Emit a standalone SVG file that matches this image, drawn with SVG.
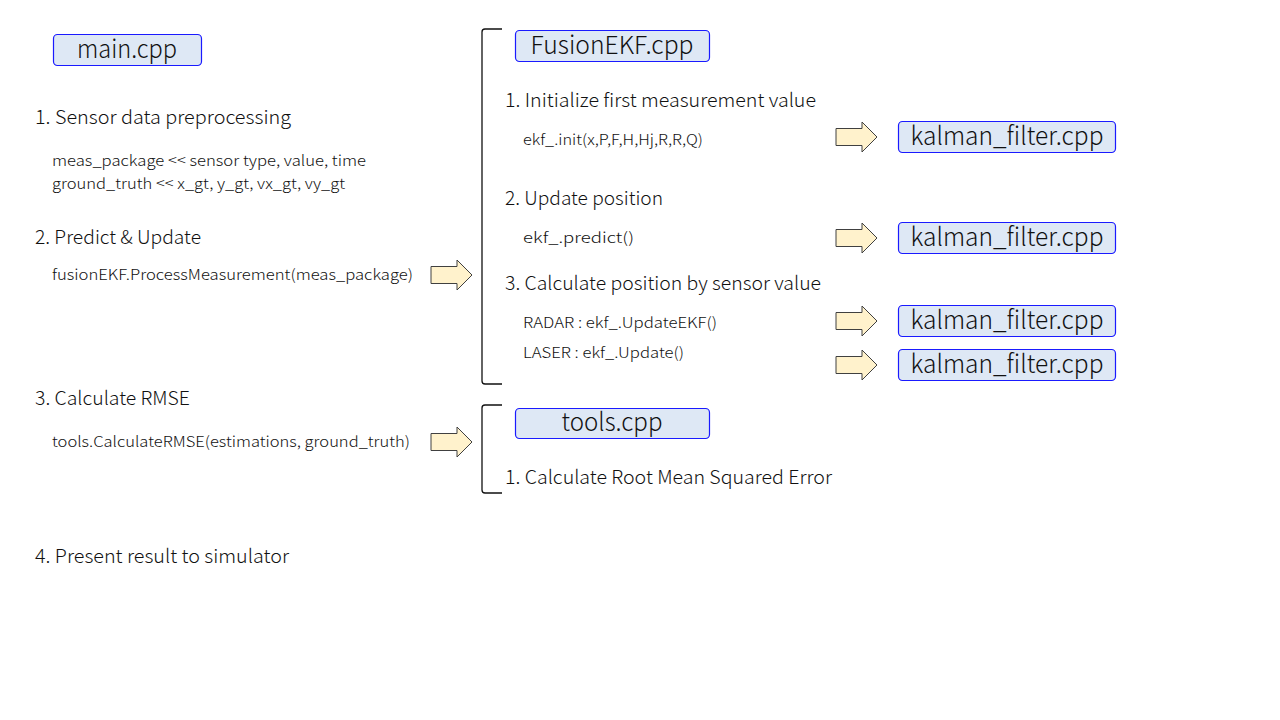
<svg xmlns="http://www.w3.org/2000/svg" width="1280" height="720" viewBox="0 0 1280 720">
<style>
.box{fill:#dee8f5;stroke:#1a1aff;stroke-width:1.2}
.lbl{font-family:"Noto Sans CJK KR","Noto Sans",sans-serif;font-size:25px;font-weight:300;fill:#111;text-anchor:middle}
.h{font-family:"Noto Sans CJK KR","Noto Sans",sans-serif;font-size:19px;font-weight:300;fill:#111}
.s{font-family:"Noto Sans CJK KR","Noto Sans",sans-serif;font-size:15px;font-weight:300;fill:#111}
.arr{fill:#fff2cc;stroke:#404040;stroke-width:1}
.br{fill:none;stroke:#111;stroke-width:1.3}
</style>
<defs>
<path id="arrow" d="M0,-8.5 H26 V-15 L41,0 L26,15 V8.5 H0 Z"/>
</defs>
<rect width="1280" height="720" fill="#fff"/>
<g id="connectors">
<use href="#arrow" class="arr" x="431" y="275"/>
<use href="#arrow" class="arr" x="431" y="442"/>
<use href="#arrow" class="arr" x="836" y="137"/>
<use href="#arrow" class="arr" x="836" y="238"/>
<use href="#arrow" class="arr" x="836" y="321"/>
<use href="#arrow" class="arr" x="836" y="365"/>
<path class="br" d="M502,29 H485 Q482,29 482,32 V381 Q482,384 485,384 H502"/>
<path class="br" d="M502,405 H485 Q482,405 482,408 V490 Q482,493 485,493 H502"/>
</g>
<g id="main">
<rect class="box" x="53.5" y="34.5" width="148" height="31" rx="4"/>
<text class="lbl" x="127" y="58" textLength="100" lengthAdjust="spacingAndGlyphs">main.cpp</text>
</g>
<g id="main-steps">
<text class="h" x="35" y="124" textLength="256" lengthAdjust="spacingAndGlyphs">1. Sensor data preprocessing</text>
<text class="s" x="52" y="166" textLength="314" lengthAdjust="spacingAndGlyphs">meas_package &lt;&lt; sensor type, value, time</text>
<text class="s" x="52" y="189" textLength="293" lengthAdjust="spacingAndGlyphs">ground_truth &lt;&lt; x_gt, y_gt, vx_gt, vy_gt</text>
<text class="h" x="35" y="244" textLength="166" lengthAdjust="spacingAndGlyphs">2. Predict &amp; Update</text>
<text class="s" x="52" y="280" textLength="361" lengthAdjust="spacingAndGlyphs">fusionEKF.ProcessMeasurement(meas_package)</text>
<text class="h" x="35" y="405" textLength="155" lengthAdjust="spacingAndGlyphs">3. Calculate RMSE</text>
<text class="s" x="52" y="447" textLength="358" lengthAdjust="spacingAndGlyphs">tools.CalculateRMSE(estimations, ground_truth)</text>
<text class="h" x="35" y="563" textLength="254" lengthAdjust="spacingAndGlyphs">4. Present result to simulator</text>
</g>
<g id="fusionekf">
<rect class="box" x="515.5" y="30.5" width="194" height="31" rx="4"/>
<text class="lbl" x="612" y="54" textLength="163" lengthAdjust="spacingAndGlyphs">FusionEKF.cpp</text>
</g>
<g id="fusion-steps">
<text class="h" x="505" y="107" textLength="311" lengthAdjust="spacingAndGlyphs">1. Initialize first measurement value</text>
<text class="s" x="523" y="145" textLength="180" lengthAdjust="spacingAndGlyphs">ekf_.init(x,P,F,H,Hj,R,R,Q)</text>
<text class="h" x="505" y="205" textLength="158" lengthAdjust="spacingAndGlyphs">2. Update position</text>
<text class="s" x="523" y="243" textLength="111" lengthAdjust="spacingAndGlyphs">ekf_.predict()</text>
<text class="h" x="505" y="290" textLength="316" lengthAdjust="spacingAndGlyphs">3. Calculate position by sensor value</text>
<text class="s" x="523" y="328" textLength="194" lengthAdjust="spacingAndGlyphs">RADAR : ekf_.UpdateEKF()</text>
<text class="s" x="523" y="358" textLength="161" lengthAdjust="spacingAndGlyphs">LASER : ekf_.Update()</text>
</g>
<g id="kalman1">
<rect class="box" x="898.5" y="121.5" width="217" height="31" rx="4"/>
<text class="lbl" x="1007" y="145" textLength="193" lengthAdjust="spacingAndGlyphs">kalman_filter.cpp</text>
</g>
<g id="kalman2">
<rect class="box" x="898.5" y="222.5" width="217" height="31" rx="4"/>
<text class="lbl" x="1007" y="246" textLength="193" lengthAdjust="spacingAndGlyphs">kalman_filter.cpp</text>
</g>
<g id="kalman3">
<rect class="box" x="898.5" y="305.5" width="217" height="31" rx="4"/>
<text class="lbl" x="1007" y="329" textLength="193" lengthAdjust="spacingAndGlyphs">kalman_filter.cpp</text>
</g>
<g id="kalman4">
<rect class="box" x="898.5" y="349.5" width="217" height="31" rx="4"/>
<text class="lbl" x="1007" y="373" textLength="193" lengthAdjust="spacingAndGlyphs">kalman_filter.cpp</text>
</g>
<g id="tools">
<rect class="box" x="515.5" y="408.5" width="194" height="30" rx="4"/>
<text class="lbl" x="612" y="431" textLength="101" lengthAdjust="spacingAndGlyphs">tools.cpp</text>
</g>
<g id="tools-steps">
<text class="h" x="505" y="484" textLength="327" lengthAdjust="spacingAndGlyphs">1. Calculate Root Mean Squared Error</text>
</g>
</svg>
